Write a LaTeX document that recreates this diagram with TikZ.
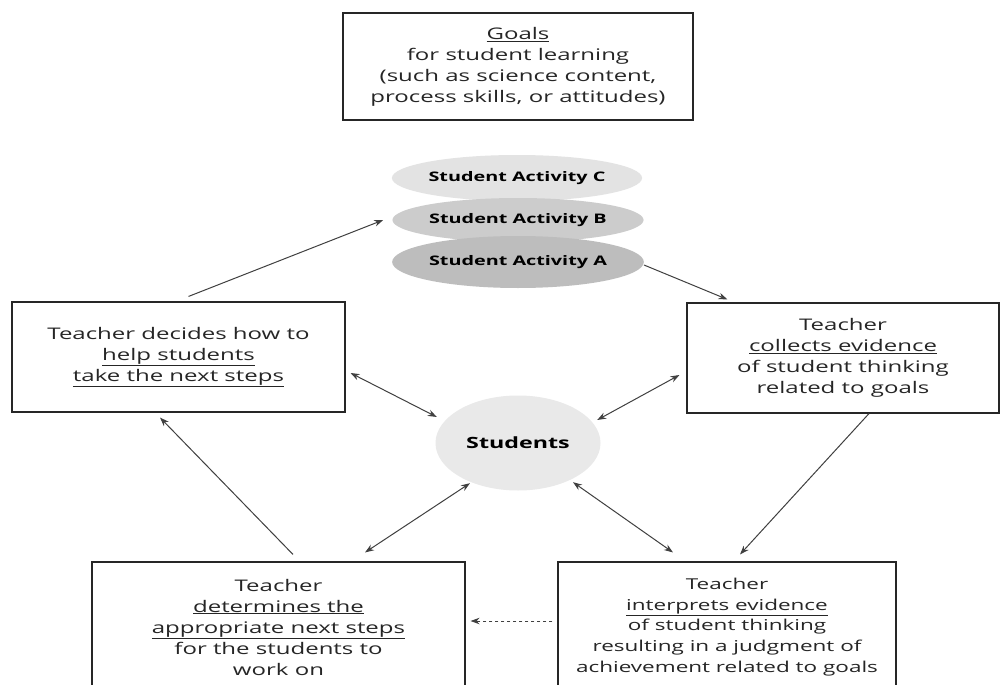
\documentclass[tikz,border=0pt]{standalone}
\usepackage{fontspec}
\setmainfont{Open Sans}[FakeStretch=1.5]
\usetikzlibrary{shapes.geometric,arrows.meta}
\begin{document}
\begin{tikzpicture}[x=1pt,y=-1pt,
  box/.style={draw=black!85, line width=1.1pt, rectangle, align=center, inner sep=0pt, text=black!85},
  txt/.style={font=\fontsize{16}{21}\selectfont},
  act/.style={ellipse, inner sep=0pt, font=\bfseries\fontsize{13.2}{16}\selectfont},
  tip/.style={},
  arr/.style={draw=gray!50!black, line width=1pt, -{Stealth[length=9pt,width=6.5pt]}},
  darr/.style={draw=gray!50!black, line width=1pt, {Stealth[length=9pt,width=6.5pt]}-{Stealth[length=9pt,width=6.5pt]}}
]
\clip (0,0) rectangle (1002,685);
\fill[white] (0,0) rectangle (1002,685);

\node[box, txt, minimum width=350pt, minimum height=107pt] (goals) at (518,66.5)
  {\underline{Goals}\\for student learning\\(such as science content,\\process skills, or attitudes)};

\node[act, fill=gray!22, minimum width=219pt, minimum height=46pt] (actC) at (517,178) {\raisebox{3pt}{Student Activity C}};
\node[act, fill=gray!40, minimum width=217pt, minimum height=44pt] (actB) at (518,220) {Student Activity B};
\node[act, fill=gray!52, minimum width=216pt, minimum height=52pt] (actA) at (518,262) {Student Activity A};

\node[ellipse, fill=gray!17, minimum width=165pt, minimum height=95pt, inner sep=0pt,
  font=\bfseries\fontsize{15.5}{18}\selectfont] (stud) at (518,443) {Students};

\node[box, txt, minimum width=333pt, minimum height=110pt] (lbox) at (178.5,357)
  {Teacher decides how to\\\underline{help students}\\\underline{take the next steps}};

\node[box, txt, minimum width=312pt, minimum height=110pt] (rbox) at (843,358)
  {Teacher\\\underline{collects evidence}\\of student thinking\\related to goals};

\node[box, txt, minimum width=373pt, minimum height=130pt] (blbox) at (278.5,627)
  {Teacher\\\underline{determines the}\\\underline{appropriate next steps}\\for the students to\\work on};

\node[box, font=\fontsize{15}{20.75}\selectfont, minimum width=338pt, minimum height=130pt] (brbox) at (727,627)
  {Teacher\\\underline{interprets evidence}\\of student thinking\\resulting in a judgment of\\achievement related to goals};

% cycle arrows
\draw[arr] ([xshift=10pt,yshift=5pt]lbox.north) -- ([xshift=-9pt]actB.west);
\draw[arr] ([yshift=-3pt]actA.east) -- ([xshift=41pt,yshift=3pt]rbox.north west);
\draw[arr] ([xshift=26pt]rbox.south) -- ([xshift=13pt,yshift=7pt]brbox.north);
\draw[arr, dashed] ([xshift=-5pt,yshift=6pt]brbox.west) -- ([xshift=5pt,yshift=6pt]blbox.east);
\draw[arr] ([xshift=14.5pt,yshift=7pt]blbox.north) -- ([xshift=-18.5pt,yshift=-5pt]lbox.south);

% double arrows with students
\draw[darr] ([xshift=5pt,yshift=-16pt]lbox.east) -- ([xshift=1.5pt,yshift=26pt]stud.west);
\draw[darr] ([xshift=-7pt,yshift=-17pt]rbox.west) -- ([xshift=-3.5pt,yshift=23pt]stud.east);
\draw[darr] ([xshift=-48pt,yshift=7.5pt]stud.south) -- ([xshift=86.5pt,yshift=9pt]blbox.north);
\draw[darr] ([xshift=55pt,yshift=8.5pt]stud.south) -- ([xshift=-54pt,yshift=9pt]brbox.north);
\end{tikzpicture}
\end{document}
